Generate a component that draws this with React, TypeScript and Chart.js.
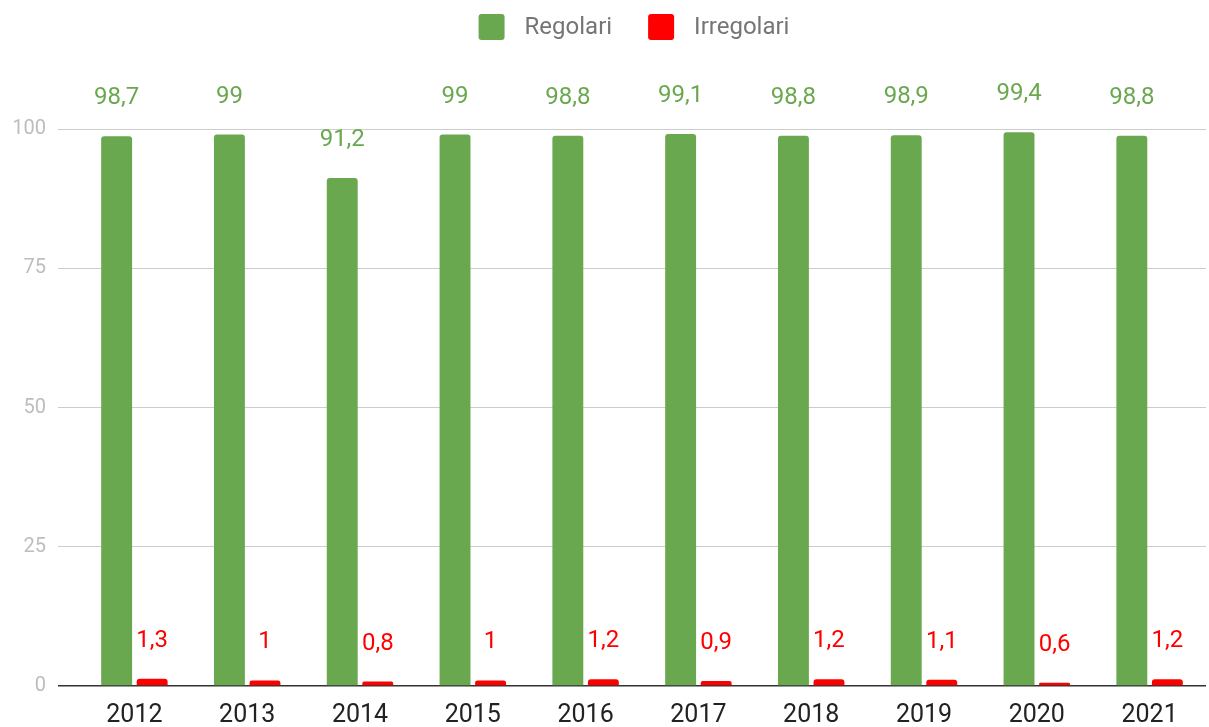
import React, { useEffect, useRef } from "react";
import { Chart, registerables } from "chart.js";

Chart.register(...registerables);

const years = ["2012", "2013", "2014", "2015", "2016", "2017", "2018", "2019", "2020", "2021"];
const regolari = [98.7, 99, 91.2, 99, 98.8, 99.1, 98.8, 98.9, 99.4, 98.8];
const irregolari = [1.3, 1, 0.8, 1, 1.2, 0.9, 1.2, 1.1, 0.6, 1.2];
const yTicks = [0, 25, 50, 75, 100];

const GREEN = "#6aa84f";
const RED = "#ff0000";
const FONT = "Roboto";

const valueLabels = {
  id: "valueLabels",
  afterDatasetsDraw(chart: any) {
    const ctx = chart.ctx;
    ctx.save();
    ctx.font = `24px ${FONT}`;
    ctx.textAlign = "center";
    ctx.textBaseline = "alphabetic";
    chart.data.datasets.forEach((ds: any, di: number) => {
      const meta = chart.getDatasetMeta(di);
      ctx.fillStyle = ds.backgroundColor;
      meta.data.forEach((bar: any, i: number) => {
        const v = ds.data[i];
        ctx.fillText(String(v).replace(".", ","), bar.x, bar.y - 32);
      });
    });
    ctx.restore();
  },
};

const customLegend = {
  id: "customLegend",
  afterDraw(chart: any) {
    const ctx = chart.ctx;
    ctx.save();
    ctx.font = `24px ${FONT}`;
    ctx.textBaseline = "middle";
    const box = 26;
    const gapText = 20;
    const gapItem = 36;
    const items = chart.data.datasets.map((ds: any) => ({
      label: ds.label,
      color: ds.backgroundColor,
      w: ctx.measureText(ds.label).width,
    }));
    let total = 0;
    items.forEach((it: any, i: number) => {
      total += box + gapText + it.w + (i < items.length - 1 ? gapItem : 0);
    });
    let x = 634 - total / 2;
    const cy = 27;
    items.forEach((it: any) => {
      ctx.fillStyle = it.color;
      ctx.beginPath();
      (ctx as any).roundRect(x, cy - box / 2, box, box, 3);
      ctx.fill();
      x += box + gapText;
      ctx.fillStyle = "#757575";
      ctx.textAlign = "left";
      ctx.fillText(it.label, x, cy + 1);
      x += it.w + gapItem;
    });
    ctx.restore();
  },
};

export default function App() {
  const ref = useRef<HTMLCanvasElement>(null);
  useEffect(() => {
    if (!ref.current) return;
    const chart = new Chart(ref.current, {
      type: "bar",
      data: {
        labels: years,
        datasets: [
          {
            label: "Regolari",
            data: regolari,
            backgroundColor: GREEN,
            borderRadius: 3,
            categoryPercentage: 0.63,
            barPercentage: 0.87,
          },
          {
            label: "Irregolari",
            data: irregolari,
            backgroundColor: RED,
            borderRadius: 3,
            categoryPercentage: 0.63,
            barPercentage: 0.87,
          },
        ],
      },
      options: {
        animation: false,
        responsive: true,
        maintainAspectRatio: false,
        layout: { padding: { top: 129, right: 3, left: 0, bottom: 0 } },
        plugins: {
          legend: { display: false },
          tooltip: { enabled: false },
        },
        scales: {
          x: {
            grid: { display: false, drawTicks: false },
            border: { display: false },
            ticks: { color: "#222222", font: { family: FONT, size: 25 }, padding: 15 },
            afterFit: (s: any) => {
              s.height = 41;
            },
          },
          y: {
            min: 0,
            max: 100,
            afterBuildTicks: (s: any) => {
              s.ticks = yTicks.map((v) => ({ value: v }));
            },
            afterFit: (s: any) => {
              s.width = 78;
            },
            border: { display: false },
            grid: {
              color: (c: any) => (c.tick && c.tick.value === 0 ? "#333333" : "#cccccc"),
              lineWidth: (c: any) => (c.tick && c.tick.value === 0 ? 1.5 : 1),
              tickLength: 20,
              drawTicks: true,
            },
            ticks: { color: "#bdbdbd", font: { family: FONT, size: 20 }, padding: 12 },
          },
        },
      },
      plugins: [valueLabels, customLegend],
    });
    return () => chart.destroy();
  }, []);
  return (
    <div style={{ position: "absolute", left: 0, top: 0, width: 1209, height: 727 }}>
      <canvas ref={ref} />
    </div>
  );
}
